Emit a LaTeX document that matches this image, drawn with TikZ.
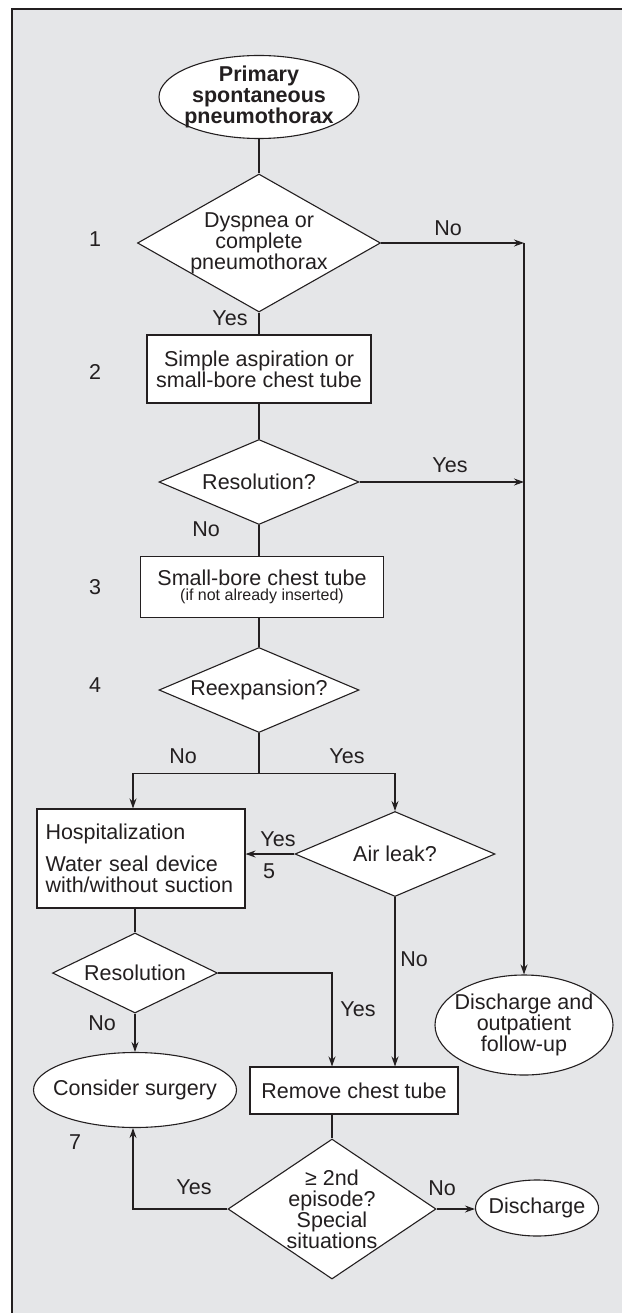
\documentclass[tikz,border=0pt]{standalone}
\usepackage{fontspec}
\setmainfont{Liberation Sans}
\usetikzlibrary{shapes.geometric,arrows.meta,calc}
\definecolor{bg}{RGB}{229,230,232}
\definecolor{ink}{RGB}{35,31,32}
\begin{document}
\begin{tikzpicture}[x=1pt,y=-1pt,
  every node/.style={font=\fontsize{21.5}{21}\selectfont, text=ink},
  shp/.style={draw=ink, fill=white, line width=1.1pt, inner sep=0pt, align=center},
  box/.style={shp, rectangle},
  dia/.style={shp, diamond},
  ell/.style={shp, ellipse},
  con/.style={draw=ink, line width=1.1pt},
  arr/.style={con, -{Stealth[length=10pt,width=7pt]}},
  lbl/.style={inner sep=0pt}
]
\useasboundingbox (0,0) rectangle (622,1313);
\fill[bg] (12,9) rectangle (622,1313);
\draw[ink, line width=1.6pt] (12,1313) -- (12,9) -- (622,9);

% shapes
\node[ell, font=\bfseries\fontsize{21.5}{21}\selectfont, minimum width=200pt, minimum height=83pt, inner xsep=-4pt, inner ysep=-3pt] (start) at (259,97) {Primary\\spontaneous\\pneumothorax};
\node[dia, minimum width=243pt, minimum height=138pt, aspect=1.76, inner sep=-1pt] (d1) at (259,243) {Dyspnea or\\complete\\pneumothorax};
\node[box, minimum width=224pt, minimum height=68pt] (b2) at (259,369) {Simple aspiration or\\small-bore chest tube};
\node[dia, minimum width=200pt, minimum height=85pt, aspect=2.35] (d2) at (259,482) {Resolution?};
\node[box, minimum width=243pt, minimum height=61pt] (b3) at (262,587) {Small-bore chest tube\\[-6pt]{\fontsize{16}{16}\selectfont(if not already inserted)}};
\node[dia, minimum width=200pt, minimum height=85pt, aspect=2.35] (d3) at (259,690) {Reexpansion?};
\coordinate (split) at ($(d3.south)+(0,40)$);
\node[box, align=left, text width=191pt, inner xsep=8.5pt, minimum height=99pt] (hosp) at (141,858.5) {Hospitalization\\[11pt]Water seal device\\with/without suction};
\node[dia, minimum width=200pt, minimum height=85pt, aspect=2.35] (air) at (395,854) {Air leak?};
\node[dia, minimum width=165pt, minimum height=80pt, aspect=2.06] (res) at (135,973) {Resolution};
\node[ell, minimum width=203pt, minimum height=75pt, inner xsep=-11pt] (surg) at (135,1090) {Consider surgery};
\node[box, minimum width=208pt, minimum height=47pt] (rm) at (354,1090.5) {Remove chest tube};
\node[dia, minimum width=208pt, minimum height=140pt, aspect=1.49, inner sep=-2pt] (d5) at (332,1209) {≥ 2nd\\episode?\\Special\\situations};
\node[ell, minimum width=123pt, minimum height=56pt, inner xsep=-6pt] (dis) at (537,1208) {Discharge};
\node[ell, minimum width=178pt, minimum height=100pt, inner xsep=-8pt] (out) at (524,1025) {Discharge and\\outpatient\\follow-up};

% connectors
\draw[con] (start.south) -- (d1.north);
\coordinate (rjoin) at (d1.east -| out.north);
\draw[arr] (d1.east) -- (rjoin);
\draw[arr] (rjoin) -- (out.north);
\draw[con] (d1.south) -- (b2.north);
\draw[con] (b2.south) -- (d2.north);
\draw[arr] (d2.east) -- (d2.east -| out.north);
\draw[con] (d2.south) -- (d2.south |- b3.north);
\draw[con] (d3.north |- b3.south) -- (d3.north);
\draw[con] (d3.south) -- (split);
\draw[arr] (split) -| ($(res.north |- hosp.north)+(-2,0)$);
\draw[arr] (split) -| (air.north);
\draw[arr] (air.west) -- (hosp.east |- air.west);
\draw[con] (res.north |- hosp.south) -- (res.north);
\draw[arr] (res.east) -| (d5.north |- rm.north);
\draw[arr] (air.south) -- (air.south |- rm.north);
\draw[arr] (res.south) -- (surg.north);
\draw[con] (d5.north |- rm.south) -- (d5.north);
\draw[arr] (d5.west) -| ($(surg.south)+(-2,0)$);
\draw[arr] (d5.east) -- (dis.west |- d5.east);

% labels
\node[lbl] (n1) at (95,239) {1};
\node[lbl] (n2) at (95,372) {2};
\node[lbl] (n3) at (95,587) {3};
\node[lbl] (n4) at (95,685) {4};
\node[lbl] (n5) at (269,871) {5};
\node[lbl] (n7) at (75,1142) {7};
\node[lbl] (t1) at (448,228) {No};
\node[lbl] (t2) at (230,318) {Yes};
\node[lbl] (t3) at (450,465) {Yes};
\node[lbl] (t4) at (206,529) {No};
\node[lbl] (t5) at (183,756) {No};
\node[lbl] (t6) at (347,756) {Yes};
\node[lbl] (t7) at (278,839) {Yes};
\node[lbl] (t8) at (414,959) {No};
\node[lbl] (t9) at (358,1009) {Yes};
\node[lbl] (t10) at (102,1023) {No};
\node[lbl] (t11) at (194,1187) {Yes};
\node[lbl] (t12) at (442,1188) {No};
\end{tikzpicture}
\end{document}
